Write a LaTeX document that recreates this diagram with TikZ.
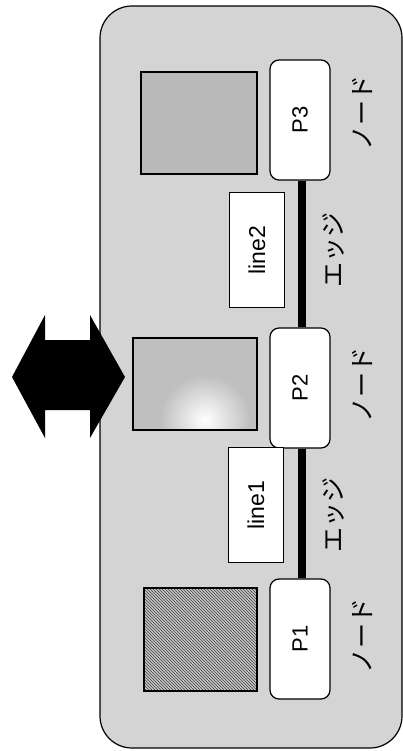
\documentclass[tikz,border=0pt]{standalone}
\usepackage{fontspec}
\setmainfont{Liberation Sans}
\newfontfamily\jpfont{Noto Sans CJK JP}
\usetikzlibrary{patterns}
\begin{document}
\begin{tikzpicture}[x=1pt,y=-1pt,
  pbox/.style={draw=black, line width=1.2pt, fill=white, rounded corners=9pt,
    minimum width=60pt, minimum height=120pt, inner sep=0pt},
  linebox/.style={draw=black, line width=1.2pt, fill=white,
    minimum width=55pt, minimum height=115pt, inner sep=0pt},
  plabel/.style={rotate=90, font=\fontsize{22}{22}\selectfont},
  llabel/.style={rotate=90, font=\fontsize{23}{23}\selectfont},
  jlabel/.style={rotate=90, font=\jpfont\fontsize{25}{25}\selectfont, inner sep=0pt},
  imgbox/.style={draw=black, line width=1.2pt},
  edgeline/.style={line width=8pt, draw=black}
]
\useasboundingbox (0,0) rectangle (403,751);
% panel
\draw[line width=1.2pt, fill=gray!34, rounded corners=32pt] (100,6) rectangle (402,748);
% double arrow
\fill[black] (12,377) -- (45,315) -- (45,340) -- (90,340) -- (90,315) -- (125,377)
  -- (90,438) -- (90,410) -- (45,410) -- (45,438) -- cycle;
% image boxes
\fill[gray!55] (141,72) rectangle (257,174);
\draw[imgbox] (141,72) rectangle (257,174);
\fill[gray!50] (133,338) rectangle (257,430);
\begin{scope}
  \clip (133,338) rectangle (257,430);
  \shade[inner color=white, outer color=gray!50] (205,420) circle (45pt);
\end{scope}
\draw[imgbox] (133,338) rectangle (257,430);
\fill[gray!45] (144,588) rectangle (257,691);
\fill[pattern=north west lines, pattern color=black!75] (144,588) rectangle (257,691);
\draw[imgbox] (144,588) rectangle (257,691);
% nodes
\node[pbox] (p3) at (300,120) {};
\node[pbox] (p2) at (300,388) {};
\node[pbox] (p1) at (300,639) {};
\draw[edgeline] ([xshift=2pt]p1.north) -- ([xshift=2pt]p2.south);
\draw[edgeline] ([xshift=2pt]p2.north) -- ([xshift=2pt]p3.south);
\node[plabel] at (p3) {P3};
\node[plabel] at (p2) {P2};
\node[plabel] at (p1) {P1};
% line labels
\node[linebox] (l2) at (257,250) {};
\node[llabel] at (l2) {line2};
\node[linebox] (l1) at (256,505) {};
\node[llabel] at (l1) {line1};
% japanese labels
\node[jlabel] (n3) at (362,113) {ノード};
\node[jlabel] (e2) at (334,250) {エッジ};
\node[jlabel] (n2) at (362,385) {ノード};
\node[jlabel] (e1) at (334,515) {エッジ};
\node[jlabel] (n1) at (362,636) {ノード};
\end{tikzpicture}
\end{document}
